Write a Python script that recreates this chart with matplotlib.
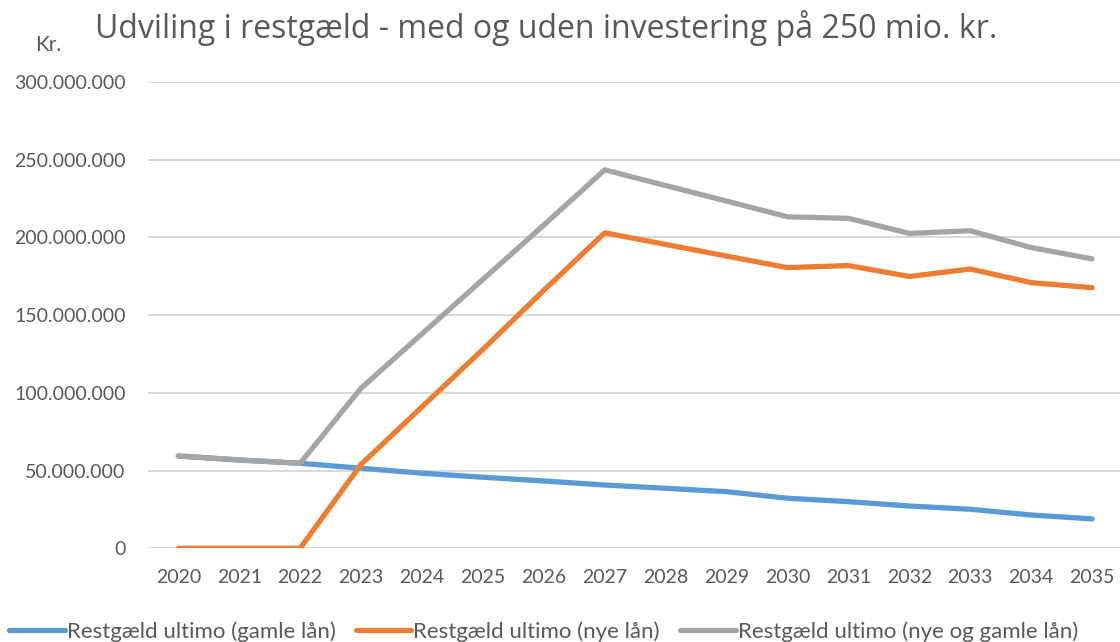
import matplotlib.pyplot as plt
from matplotlib.ticker import FuncFormatter

# data (mio. kr.)
years = list(range(2020, 2036))
gamle = [59.4, 56.8, 54.7, 51.5, 48.3, 45.7, 43.3, 40.7, 38.6, 36.4,
         32.2, 30.0, 27.2, 25.1, 21.4, 18.9]
nye = [0, 0, 0, 54.0, 91.0, 128.0, 166.0, 203.0, 195.5, 188.0,
       180.6, 181.9, 174.9, 179.7, 170.9, 167.7]
samlet = [59.4, 56.8, 54.7, 103.0, 138.0, 173.0, 208.0, 243.5, 233.4, 223.4,
          213.3, 212.3, 202.6, 204.3, 193.5, 186.2]
names = ["Restgæld ultimo (gamle lån)", "Restgæld ultimo (nye lån)",
         "Restgæld ultimo (nye og gamle lån)"]
colors = ["#5B9BD5", "#ED7D31", "#A5A5A5"]

font = ["Lato", "DejaVu Sans"]
txt = "#595959"

fig = plt.figure(figsize=(11.2, 6.42), dpi=100)
ax = fig.add_axes([0.132, 0.146, 0.8703, 0.7262])

x = range(len(years))
for serie, name, c in zip([gamle, nye, samlet], names, colors):
    ax.plot(x, [v * 1e6 for v in serie], color=c, lw=3.8, label=name,
            solid_capstyle="round", solid_joinstyle="round")

ax.set_xlim(-0.5, len(years) - 0.5)
ax.set_ylim(0, 300e6)
ax.set_yticks(range(0, 300000001, 50000000))
ax.yaxis.set_major_formatter(FuncFormatter(lambda v, p: f"{int(v):,}".replace(",", ".")))
ax.set_xticks(list(x))
ax.set_xticklabels([str(y) for y in years])
for lab in ax.get_xticklabels() + ax.get_yticklabels():
    lab.set_family(font)
    lab.set_fontsize(14)
    lab.set_color(txt)
ax.tick_params(length=0)
ax.tick_params(axis="x", pad=15)
ax.tick_params(axis="y", pad=16)
ax.grid(axis="y", color="#D9D9D9", lw=1.4)
ax.set_axisbelow(True)
for s in ax.spines.values():
    s.set_visible(False)

fig.text(0.085, 0.941, "Udviling i restgæld - med og uden investering på 250 mio. kr.",
         fontsize=23, color=txt, family=["Open Sans", "DejaVu Sans"], va="baseline")
fig.text(0.031, 0.921, "Kr.", fontsize=15, color=txt, family=font, va="baseline")

fig.legend(loc="center", bbox_to_anchor=(0.4853, 0.016), ncol=3, frameon=False,
           prop={"family": font, "size": 16}, labelcolor=txt,
           handlelength=2.5, handletextpad=0.1, columnspacing=0.9,
           borderpad=0, borderaxespad=0)

fig.savefig("out.png", dpi=100)
